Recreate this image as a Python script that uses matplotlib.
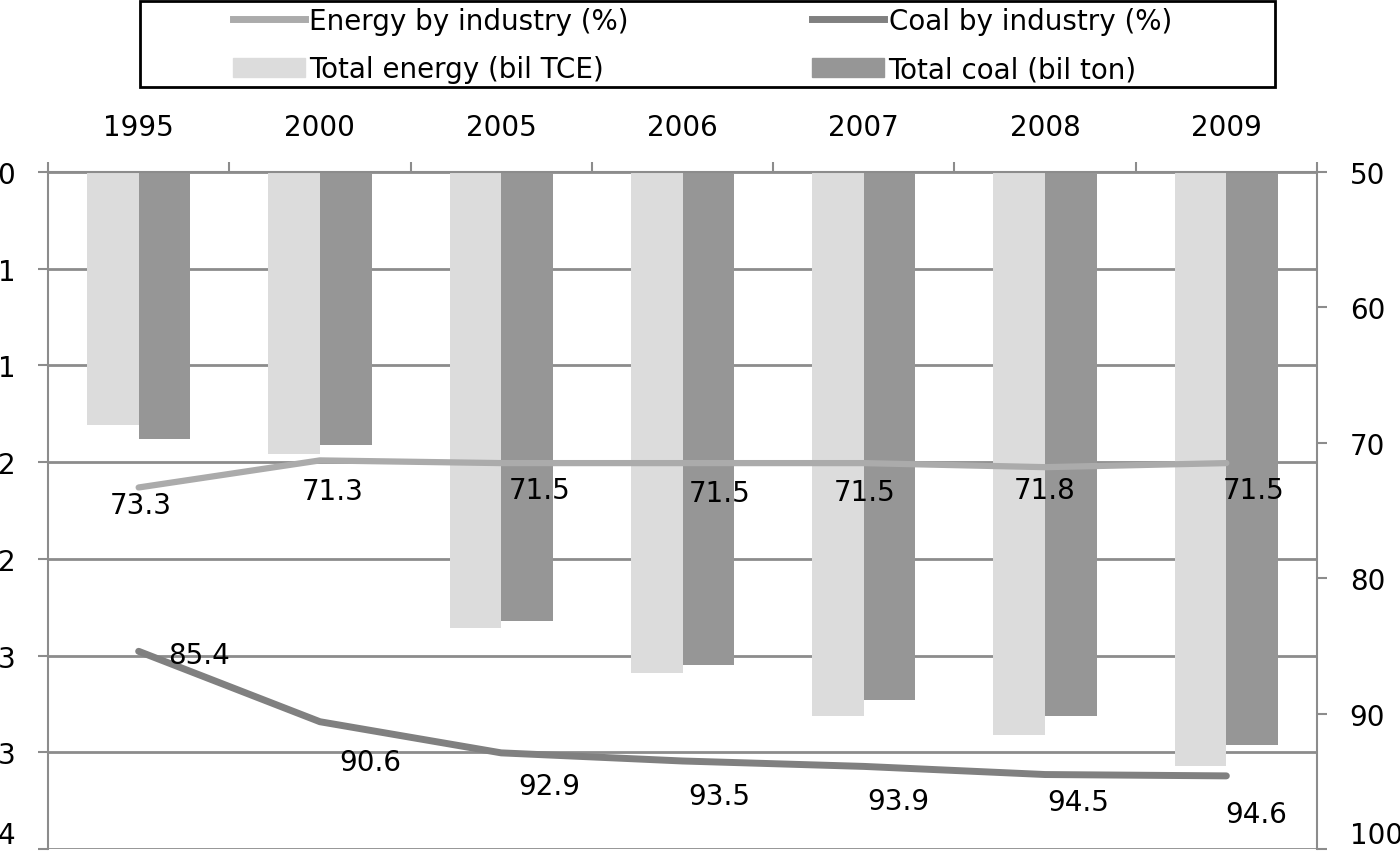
import numpy as np
import matplotlib.pyplot as plt
from matplotlib.lines import Line2D
from matplotlib.patches import Patch, Rectangle
from matplotlib.ticker import FuncFormatter, FixedLocator

years = ['1995', '2000', '2005', '2006', '2007', '2008', '2009']
total_energy = [1.31, 1.46, 2.36, 2.59, 2.81, 2.91, 3.07]   # bil TCE
total_coal = [1.38, 1.41, 2.32, 2.55, 2.73, 2.81, 2.96]     # bil ton
energy_ind = [73.3, 71.3, 71.5, 71.5, 71.5, 71.8, 71.5]     # %
coal_ind = [85.4, 90.6, 92.9, 93.5, 93.9, 94.5, 94.6]       # %

light = '#dcdcdc'
dark = '#969696'
grid_c = '#8c8c8c'
fs = 20

plt.rcParams['font.family'] = 'DejaVu Sans'
fig = plt.figure(figsize=(14, 8.62), dpi=100)
ax = fig.add_axes([48/1400, 1-850/862, (1317-48)/1400, (850-173)/862])
x = np.arange(len(years))
w = 0.285

ax.bar(x - w/2, total_energy, w, color=light, zorder=2)
ax.bar(x + w/2, total_coal, w, color=dark, zorder=2)

ax.set_xlim(-0.5, len(years) - 0.5)
ax.set_ylim(3.5, 0)
ax.set_yticks(np.arange(0, 3.51, 0.5))
ax.yaxis.set_major_formatter(FuncFormatter(lambda v, p: '%d' % int(v + 0.5)))
ax.grid(axis='y', color=grid_c, linewidth=2)
ax.set_axisbelow(True)

ax.xaxis.tick_top()
ax.set_xticks(x)
ax.set_xticklabels(years)
ax.xaxis.set_minor_locator(FixedLocator(np.arange(-0.5, len(years), 1)))
ax.tick_params(axis='x', which='major', length=0, pad=22, labelsize=fs)
ax.tick_params(axis='x', which='minor', length=7.5, width=1.5, color=grid_c, top=True, bottom=False)
ax.tick_params(axis='y', length=7.5, width=1.5, color=grid_c, labelsize=fs, pad=16)

for s in ['left', 'right', 'top']:
    ax.spines[s].set_color(grid_c)
    ax.spines[s].set_linewidth(1.5)
ax.spines['bottom'].set_visible(False)

ax2 = ax.twinx()
ax2.set_ylim(100, 50)
ax2.set_yticks([50, 60, 70, 80, 90, 100])
ax2.tick_params(axis='y', length=7.5, width=1.5, color=grid_c, labelsize=fs, pad=16)
for s in ['left', 'right', 'top', 'bottom']:
    ax2.spines[s].set_visible(False)

# keep the bottom tick labels inside the picture
fig.canvas.draw()
ax.get_yticklabels()[-1].set_va('bottom')
ax2.get_yticklabels()[-1].set_va('bottom')

ax2.plot(x, energy_ind, color='#ababab', linewidth=4.5, solid_capstyle='round', zorder=3)
ax2.plot(x, coal_ind, color='#808080', linewidth=5, solid_capstyle='round', zorder=3)

# data labels (hand placed like the original)
e_off = [(2, -18), (13, -31), (38, -27), (37, -30), (1, -29), (0, -23), (27, -27)]
for xi, v, o in zip(x, energy_ind, e_off):
    ax2.annotate('%.1f' % v, (xi, v), xytext=o, textcoords='offset pixels',
                 ha='center', va='center', fontsize=fs)
c_off = [(60, -4), (50, -40), (48, -33), (37, -35), (35, -35), (33, -27), (30, -38)]
for xi, v, o in zip(x, coal_ind, c_off):
    ax2.annotate('%.1f' % v, (xi, v), xytext=o, textcoords='offset pixels',
                 ha='center', va='center', fontsize=fs)

handles = [Line2D([], [], color='#ababab', linewidth=5),
           Patch(color=light),
           Line2D([], [], color='#808080', linewidth=5),
           Patch(color=dark)]
labels = ['Energy by industry (%)', 'Total energy (bil TCE)',
          'Coal by industry (%)', 'Total coal (bil ton)']
leg = fig.legend(handles, labels, ncol=2, loc='upper left',
                 bbox_to_anchor=(233/1400, 1 - 8/862), frameon=False,
                 fontsize=fs, handlelength=2.6, handletextpad=0.15,
                 borderpad=0, borderaxespad=0, labelspacing=0.72,
                 columnspacing=6.6, handleheight=0.7)
fig.add_artist(Rectangle((140/1400, 1 - 88/862), 1135/1400, 86/862,
                         transform=fig.transFigure, fill=False,
                         edgecolor='black', linewidth=2))

fig.savefig('out.png', dpi=100)
